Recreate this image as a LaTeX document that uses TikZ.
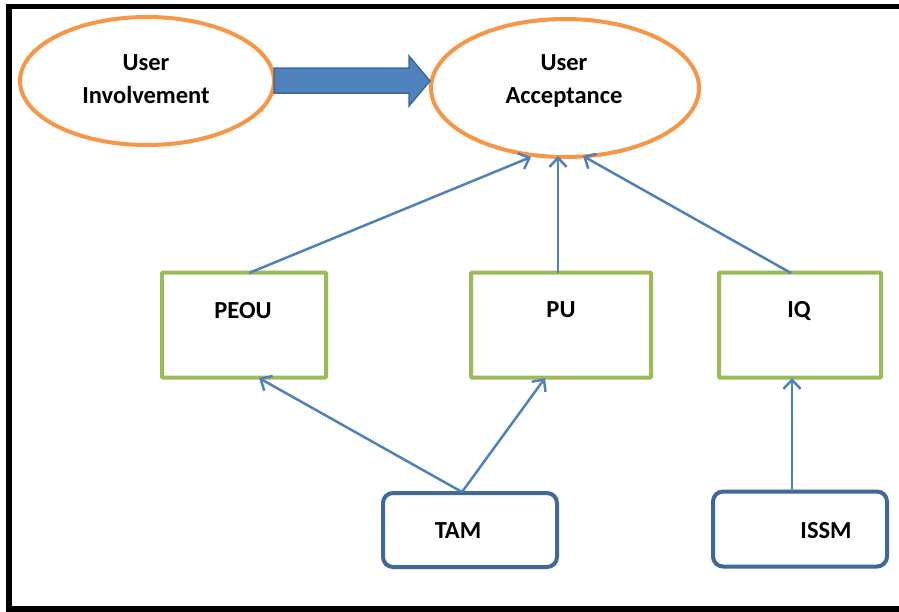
\documentclass[tikz,border=0pt]{standalone}
\usepackage{fontspec}
\setmainfont{Carlito}
\usetikzlibrary{shapes.geometric,arrows.meta}
\definecolor{ovalorange}{HTML}{F79646}
\definecolor{boxgreen}{HTML}{9BBB59}
\definecolor{linkblue}{HTML}{4F81BD}
\definecolor{edgeblue}{HTML}{41689A}
\begin{document}
\begin{tikzpicture}[x=1pt,y=-1pt,
  oval/.style={ellipse, draw=ovalorange, line width=4pt, fill=white, inner sep=0pt},
  factor/.style={rectangle, draw=boxgreen, line width=4pt, fill=white, inner sep=0pt, rounded corners=1pt},
  model/.style={rectangle, draw=edgeblue, line width=4pt, fill=white, inner sep=0pt, rounded corners=10pt},
  lbl/.style={font=\fontsize{24.5}{33}\selectfont\bfseries, align=center, text=black, inner sep=0pt},
  link/.style={draw=linkblue, line width=2.5pt, -{Straight Barb[length=9pt,width=17pt,line width=2.5pt]}}
]
\useasboundingbox (0,0) rectangle (899,611);
\fill[white] (0,0) rectangle (899,611);

% frame: top, left and bottom rules
\draw[line width=5.5pt] (6,6.5) -- (899,6.5);
\draw[line width=6pt] (9,4) -- (9,611);
\draw[line width=6pt] (6,609) -- (899,609);

% ovals
\node[oval, minimum width=254pt, minimum height=128pt] (ui) at (147,81) {};
\node[oval, minimum width=268pt, minimum height=138pt] (ua) at (565,88) {};
\node[lbl] (uitext) at (146,79) {User\\Involvement};
\node[lbl] (uatext) at (564,81) {User\\Acceptance};

% block arrow between the ovals
\draw[draw=edgeblue, fill=linkblue, line width=1.5pt, line join=miter]
  (274,68) -- (409,68) -- (409,56) -- (430,81) -- (409,106) -- (409,93) -- (274,93) -- cycle;

% factor boxes
\node[factor, minimum width=164pt, minimum height=105pt] (peou) at (244,325) {};
\node[factor, minimum width=180pt, minimum height=105pt] (pu) at (561,325) {};
\node[factor, minimum width=162pt, minimum height=105pt] (iq) at (800,325) {};
\node[lbl] (peoutext) at (243,311) {PEOU};
\node[lbl] (putext) at (561,310) {PU};
\node[lbl] (iqtext) at (799,311) {IQ};

% model boxes
\node[model, minimum width=174pt, minimum height=74pt] (tam) at (470,530) {};
\node[model, minimum width=174pt, minimum height=75pt] (issm) at (800,529) {};
\node[lbl] (tamtext) at (458,531) {TAM};
\node[lbl] (issmtext) at (826,531) {ISSM};

% connectors
\coordinate (peoutop) at (249,273);
\coordinate (putop) at (558,273);
\coordinate (iqtop) at (791,273);
\coordinate (uain1) at (531,157);
\coordinate (uain2) at (558,156);
\coordinate (uain3) at (583,156);
\coordinate (tamtop) at (462,492);
\coordinate (peoubot) at (259,378);
\coordinate (pubot) at (545,378);
\coordinate (issmtop) at (792,491);
\coordinate (iqbot) at (792,378);

\draw[link] (peoutop) -- (uain1);
\draw[link] (putop) -- (uain2);
\draw[link] (iqtop) -- (uain3);
\draw[link] (tamtop) -- (peoubot);
\draw[link] (tamtop) -- (pubot);
\draw[link] (issmtop) -- (iqbot);
\end{tikzpicture}
\end{document}
